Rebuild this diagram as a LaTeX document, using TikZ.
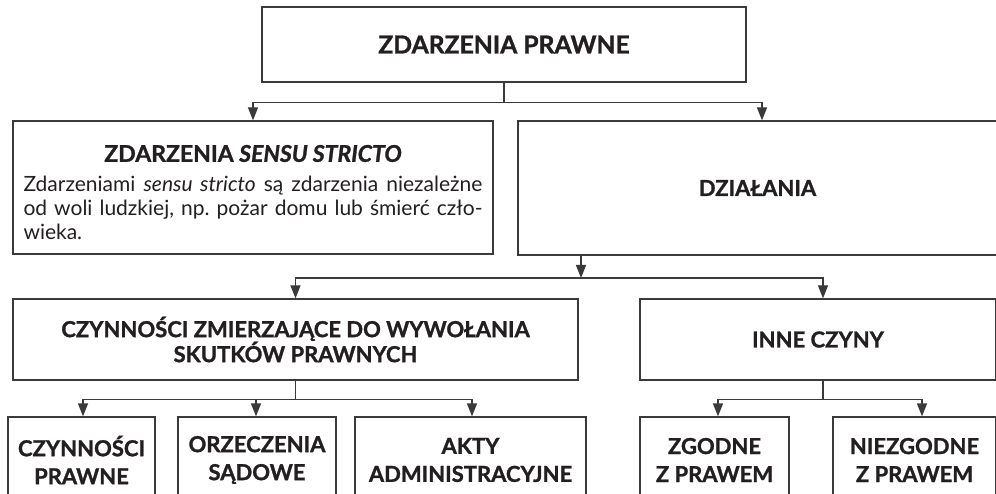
\documentclass[tikz,border=0pt]{standalone}
\usepackage{fontspec}
\setmainfont{Lato}[BoldFeatures={FakeBold=1.2}, BoldItalicFeatures={FakeBold=1.2}]
\usetikzlibrary{arrows.meta,calc}
\definecolor{ink}{HTML}{231F20}
\definecolor{linecol}{HTML}{3A3A3A}
\tikzset{
  box/.style={draw=linecol, line width=1.2pt, inner sep=0pt, text=ink, align=center, anchor=center},
  plainbox/.style={draw=linecol, line width=1.2pt, inner sep=0pt, text=ink, anchor=center},
  arr/.style={draw=linecol, line width=1.2pt, -{Triangle[length=13pt,width=10pt]}},
  ln/.style={draw=linecol, line width=1.2pt},
  topfont/.style={font=\bfseries\fontsize{24.7}{28}\selectfont},
  headfont/.style={font=\bfseries\fontsize{22}{25}\selectfont},
  lowfont/.style={font=\bfseries\fontsize{22}{28}\selectfont},
}
\begin{document}
\begin{tikzpicture}[x=1pt,y=-1pt]
\useasboundingbox (0,0) rectangle (996,494);
\fill[white] (0,0) rectangle (996,494);
\begin{scope}
\clip (0,0) rectangle (996,494);
% row 1
\node[box, topfont, minimum width=484pt, minimum height=75pt] (top) at (504,44.5) {ZDARZENIA PRAWNE};
% row 2
\node[plainbox, minimum width=480pt, minimum height=133pt] (ss) at (253,187.5) {%
  \begin{minipage}{459pt}\setlength{\parindent}{0pt}\frenchspacing
  \vspace*{10pt}%
  \centering\bfseries\fontsize{23}{25}\selectfont ZDARZENIA \textit{SENSU STRICTO}\par
  \vspace{6pt}%
  \mdseries\fontsize{21}{24}\selectfont
  \makebox[459pt][s]{Zdarzeniami \textit{sensu stricto} są zdarzenia niezależne}\par
  \makebox[459pt][s]{od woli ludzkiej, np. pożar domu lub śmierć czło-}\par
  \makebox[459pt][l]{wieka.}\par
  \end{minipage}};
\node[box, headfont, minimum width=479pt, minimum height=134pt] (dz) at (757.5,188) {DZIAŁANIA};
% row 3
\node[box, headfont, minimum width=565pt, minimum height=81pt] (cz) at (295.5,339.5) {CZYNNOŚCI ZMIERZAJĄCE DO WYWOŁANIA\\SKUTKÓW PRAWNYCH};
\node[box, headfont, minimum width=356pt, minimum height=81pt] (inne) at (818,339.5) {INNE CZYNY};
% row 4
\node[box, lowfont, minimum width=147pt, minimum height=86pt] (cp) at (81.5,460) {CZYNNOŚCI\\PRAWNE};
\node[box, lowfont, minimum width=158pt, minimum height=86pt] (orz) at (257,460) {ORZECZENIA\\SĄDOWE};
\node[box, lowfont, minimum width=231pt, minimum height=86pt] (ak) at (470.5,460) {AKTY\\ADMINISTRACYJNE};
\node[box, lowfont, minimum width=149pt, minimum height=86pt] (zg) at (714.5,460) {ZGODNE\\Z PRAWEM};
\node[box, lowfont, minimum width=163pt, minimum height=86pt] (nz) at (914.5,460) {NIEZGODNE\\Z PRAWEM};
% connectors
\coordinate (b1) at ($(top.south)+(0,20)$);
\draw[ln] (top.south) -- (b1);
\draw[arr] (b1) -| (ss.north);
\draw[arr] (b1) -| ($(dz.north)+(4.5,0)$);
\coordinate (b2) at (581,278);
\draw[arr] (dz.south -| b2) -- (b2);
\draw[arr] (b2) -| (cz.north);
\draw[arr] (b2) -| ($(inne.north)+(5,0)$);
\coordinate (b3) at ($(cz.south)+(0,19)$);
\draw[ln] (cz.south) -- (b3);
\draw[arr] (b3) -| ($(cp.north)+(1.5,0)$);
\draw[arr] (b3) -| ($(orz.north)+(-1,0)$);
\draw[arr] (b3) -| ($(ak.north)+(1.5,0)$);
\coordinate (b4) at ($(inne.south)+(5,19)$);
\draw[ln] ($(inne.south)+(5,0)$) -- (b4);
\draw[arr] (b4) -| ($(zg.north)+(3.5,0)$);
\draw[arr] (b4) -| ($(nz.north)+(7.5,0)$);
\end{scope}
\end{tikzpicture}
\end{document}
